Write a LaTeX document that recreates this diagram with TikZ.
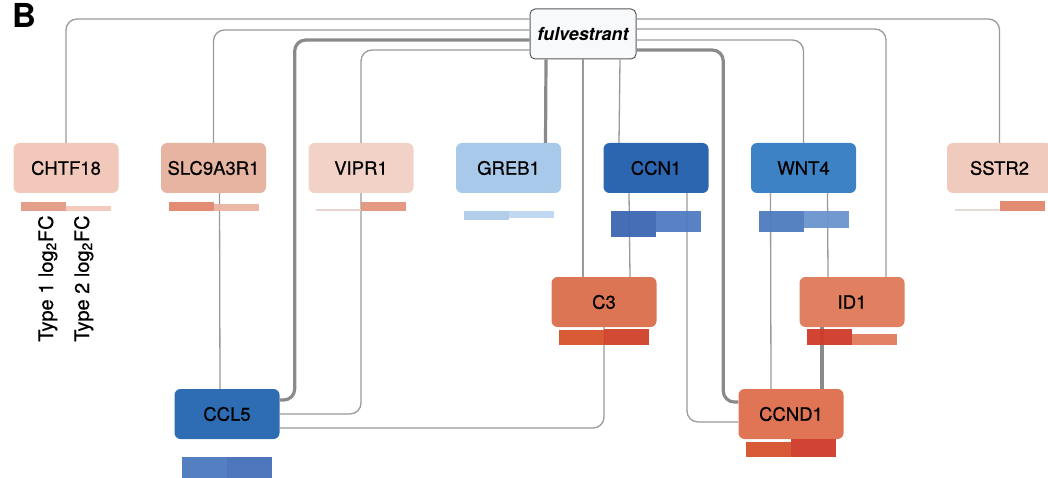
\documentclass[tikz,border=0pt]{standalone}
\usepackage{fontspec}
\setmainfont{TeX Gyre Heros}
\newfontfamily\genefont{TeX Gyre Heros}[BoldFont=TeX Gyre Heros, BoldFeatures={FakeBold=0.5}]
\usepackage{tikz}
\usepackage{xcolor}
\usetikzlibrary{positioning}

\definecolor{edgegray}{HTML}{9A9A9A}
\definecolor{stronggray}{HTML}{8A8A8A}
\definecolor{drugline}{HTML}{5A5A5A}
\definecolor{drugfill}{HTML}{F8F9FA}
\definecolor{chtfcol}{HTML}{F2C8BA}
\definecolor{slccol}{HTML}{E8B4A2}
\definecolor{viprcol}{HTML}{F2D1C6}
\definecolor{grebcol}{HTML}{A9C9EA}
\definecolor{ccnonecol}{HTML}{2D66B0}
\definecolor{wntcol}{HTML}{3C82C4}
\definecolor{sstrcol}{HTML}{F0CABC}
\definecolor{cthreecol}{HTML}{DC7553}
\definecolor{idcol}{HTML}{E08060}
\definecolor{cclcol}{HTML}{2E6DB3}
\definecolor{ccndcol}{HTML}{DF7555}

\begin{document}
\begin{tikzpicture}
	[x=1pt, y=-1pt, node distance={147.5pt},
	gene/.style = {rounded corners=6pt, minimum width=105pt, minimum height=50pt, inner sep=0pt, font=\fontsize{18.5}{20}\selectfont\genefont\bfseries},
	drug/.style = {draw=drugline, fill=drugfill, line width=1pt, rounded corners=5pt, minimum width=106pt, minimum height=50pt, inner sep=0pt, font=\fontsize{18}{20}\selectfont\bfseries\itshape},
	edge/.style = {draw=edgegray, line width=1.3pt, rounded corners=11pt},
	strong/.style = {draw=stronggray, line width=3.2pt, rounded corners=11pt},
	fc/.style = {opacity=0.95}]
	\useasboundingbox (0,0) rectangle (1048,478);
	\node[font=\fontsize{33}{33}\selectfont\bfseries, anchor=base west, inner sep=0pt] (panel) at (12,27.5) {B};
	\node[drug] (fulv) at (583,34) {fulvestrant};
	% top row
	\node[gene, fill=chtfcol] (chtf18) at (66,168) {CHTF18};
	\node[gene, fill=slccol] (slc9a3r1) [right of = chtf18] {SLC9A3R1};
	\node[gene, fill=viprcol] (vipr1) [right of = slc9a3r1] {VIPR1};
	\node[gene, fill=grebcol] (greb1) [right of = vipr1] {GREB1};
	\node[gene, fill=ccnonecol] (ccn1) [right of = greb1] {CCN1};
	\node[gene, fill=wntcol] (wnt4) [right of = ccn1] {WNT4};
	\node[gene, fill=sstrcol] (sstr2) [right of = wnt4, node distance={196pt}] {SSTR2};
	% lower rows
	\node[gene, fill=cthreecol] (c3) at (604,302) {C3};
	\node[gene, fill=idcol] (id1) [right of = c3, node distance={248pt}] {ID1};
	\node[gene, fill=cclcol] (ccl5) at (227,414) {CCL5};
	\node[gene, fill=ccndcol] (ccnd1) at (791,414) {CCND1};
	% axis labels
	\node[rotate=90, anchor=base west, inner sep=0pt, font=\fontsize{20}{20}\selectfont\genefont\bfseries] (type1) at (53,342) {Type 1 log\textsubscript{2}FC};
	\node[rotate=90, anchor=base west, inner sep=0pt, font=\fontsize{20}{20}\selectfont\genefont\bfseries] (type2) at (89,342) {Type 2 log\textsubscript{2}FC};
	% links from fulvestrant
	\draw[edge] ([yshift=15pt]fulv.west) -| (chtf18.north);
	\draw[edge] ([yshift=4pt]fulv.west) -| (slc9a3r1.north);
	\draw[strong] ([yshift=-6pt]fulv.west) -| ([xshift=15pt, yshift=14pt]ccl5.east) -- ([yshift=14pt]ccl5.east);
	\draw[edge] ([yshift=-16pt]fulv.west) -| (vipr1.north);
	\draw[strong] ([xshift=-37pt]fulv.south) -- ([xshift=37pt]greb1.north);
	\draw[edge] (fulv.south) -- ([xshift=-21pt]c3.north);
	\draw[edge] ([xshift=37pt]fulv.south) -- ([xshift=-37pt]ccn1.north);
	\draw[edge] ([yshift=15pt]fulv.east) -| (sstr2.north);
	\draw[edge] ([yshift=5pt]fulv.east) -| ([xshift=34pt]id1.north);
	\draw[edge] ([yshift=-6pt]fulv.east) -| (wnt4.north);
	\draw[strong] ([yshift=-16pt]fulv.east) -| ([xshift=-15pt, yshift=12pt]ccnd1.west) -- ([yshift=12pt]ccnd1.west);
	% links between genes
	\draw[edge] ([xshift=6pt]slc9a3r1.south) -- ([xshift=-7pt]ccl5.north);
	\draw[edge] (vipr1.south) |- (ccl5.east);
	\draw[edge] (c3.south) |- ([yshift=-14pt]ccl5.east);
	\draw[edge] ([xshift=-27pt]ccn1.south) -- ([xshift=26pt]c3.north);
	\draw[edge] ([xshift=31pt]ccn1.south) |- ([yshift=-8pt]ccnd1.west);
	\draw[edge] ([xshift=-33pt]wnt4.south) -- ([xshift=-20pt]ccnd1.north);
	\draw[edge] ([xshift=24pt]wnt4.south) -- ([xshift=-24pt]id1.north);
	\draw[strong] ([xshift=-30pt]id1.south) -- ([xshift=31pt]ccnd1.north);
	% log2FC bars
	\fill[fc, fill={rgb,255:red,227;green,154;blue,133}] ([xshift=-45pt, yshift=-17.5pt]chtf18.south) rectangle ++(45pt,9pt);
	\fill[fc, fill={rgb,255:red,242;green,199;blue,185}] ([yshift=-17.5pt]chtf18.south) rectangle ++(45pt,5pt);
	\fill[fc, fill={rgb,255:red,224;green,134;blue,107}] ([xshift=-45pt, yshift=-17.5pt]slc9a3r1.south) rectangle ++(45pt,9pt);
	\fill[fc, fill={rgb,255:red,235;green,179;blue,162}] ([yshift=-17.5pt]slc9a3r1.south) rectangle ++(45pt,7pt);
	\fill[fc, fill={rgb,255:red,225;green,210;blue,205}] ([xshift=-45pt, yshift=-17.5pt]vipr1.south) rectangle ++(45pt,1.2pt);
	\fill[fc, fill={rgb,255:red,227;green,147;blue,124}] ([yshift=-17.5pt]vipr1.south) rectangle ++(45pt,9pt);
	\fill[fc, fill={rgb,255:red,174;green,203;blue,234}] ([xshift=-45pt, yshift=-17.5pt]greb1.south) rectangle ++(45pt,-9pt);
	\fill[fc, fill={rgb,255:red,189;green,214;blue,240}] ([yshift=-17.5pt]greb1.south) rectangle ++(45pt,-7pt);
	\fill[fc, fill={rgb,255:red,60;green,102;blue,179}] ([xshift=-45pt, yshift=-17.5pt]ccn1.south) rectangle ++(45pt,-26pt);
	\fill[fc, fill={rgb,255:red,79;green,123;blue,192}] ([yshift=-17.5pt]ccn1.south) rectangle ++(45pt,-21pt);
	\fill[fc, fill={rgb,255:red,78;green,123;blue,191}] ([xshift=-45pt, yshift=-17.5pt]wnt4.south) rectangle ++(45pt,-21pt);
	\fill[fc, fill={rgb,255:red,107;green,149;blue,205}] ([yshift=-17.5pt]wnt4.south) rectangle ++(45pt,-17pt);
	\fill[fc, fill={rgb,255:red,228;green,216;blue,212}] ([xshift=-45pt, yshift=-17.5pt]sstr2.south) rectangle ++(45pt,1.2pt);
	\fill[fc, fill={rgb,255:red,224;green,135;blue,108}] ([yshift=-17.5pt]sstr2.south) rectangle ++(45pt,10pt);
	\fill[fc, fill={rgb,255:red,215;green,82;blue,43}] ([xshift=-45pt, yshift=-17.5pt]c3.south) rectangle ++(45pt,15pt);
	\fill[fc, fill={rgb,255:red,208;green,64;blue,40}] ([yshift=-17.5pt]c3.south) rectangle ++(45pt,16pt);
	\fill[fc, fill={rgb,255:red,207;green,58;blue,40}] ([xshift=-45pt, yshift=-17.5pt]id1.south) rectangle ++(45pt,16pt);
	\fill[fc, fill={rgb,255:red,224;green,122;blue,91}] ([yshift=-17.5pt]id1.south) rectangle ++(45pt,11pt);
	\fill[fc, fill={rgb,255:red,75;green,120;blue,189}] ([xshift=-45pt, yshift=-17.5pt]ccl5.south) rectangle ++(45pt,-25pt);
	\fill[fc, fill={rgb,255:red,69;green,111;blue,185}] ([yshift=-17.5pt]ccl5.south) rectangle ++(45pt,-25pt);
	\fill[fc, fill={rgb,255:red,214;green,80;blue,42}] ([xshift=-45pt, yshift=-17.5pt]ccnd1.south) rectangle ++(45pt,15pt);
	\fill[fc, fill={rgb,255:red,207;green,58;blue,40}] ([yshift=-17.5pt]ccnd1.south) rectangle ++(45pt,18pt);
\end{tikzpicture}
\end{document}
